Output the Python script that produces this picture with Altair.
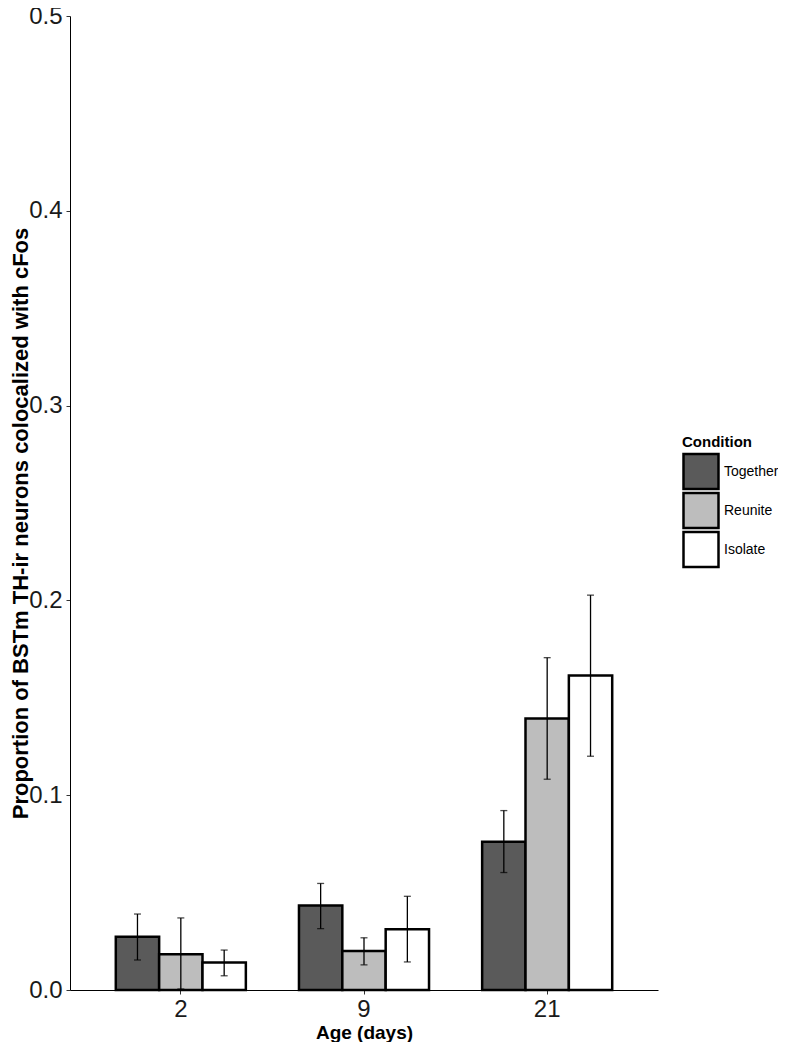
import altair as alt
import pandas as pd

ages = ["2", "9", "21"]
conditions = ["Together", "Reunite", "Isolate"]
colors = ["#5a5a5a", "#bdbdbd", "#ffffff"]

mean_together = [0.0273, 0.0434, 0.0761]
mean_reunite = [0.0183, 0.0200, 0.1394]
mean_isolate = [0.0141, 0.0312, 0.1614]

lower_together = [0.0154, 0.0315, 0.0603]
upper_together = [0.0390, 0.0547, 0.0921]
lower_reunite = [0.0005, 0.0129, 0.1082]
upper_reunite = [0.0370, 0.0268, 0.1706]
lower_isolate = [0.0073, 0.0144, 0.1200]
upper_isolate = [0.0205, 0.0481, 0.2027]

y_ticks = [0.0, 0.1, 0.2, 0.3, 0.4, 0.5]

rows = []
for cond, m, lo, hi in [
    ("Together", mean_together, lower_together, upper_together),
    ("Reunite", mean_reunite, lower_reunite, upper_reunite),
    ("Isolate", mean_isolate, lower_isolate, upper_isolate),
]:
    for a, mv, lv, hv in zip(ages, m, lo, hi):
        rows.append({"age": a, "condition": cond, "mean": mv, "lower": lv, "upper": hv})
df = pd.DataFrame(rows)

FONT = "Liberation Sans, Arial, Helvetica, sans-serif"

base = alt.Chart(df).encode(
    x=alt.X(
        "age:N",
        sort=ages,
        scale=alt.Scale(paddingInner=0.29, paddingOuter=0.25),
        axis=alt.Axis(
            title="Age (days)",
            labelAngle=0,
            titleY=42,
            titleBaseline="middle",
            titleFontSize=19,
            labelPadding=3,
        ),
    ),
    xOffset=alt.XOffset(
        "condition:N", sort=conditions, scale=alt.Scale(paddingInner=0, paddingOuter=0)
    ),
)

bars = base.mark_bar(stroke="black", strokeWidth=2.5).encode(
    y=alt.Y(
        "mean:Q",
        scale=alt.Scale(domain=[0, 0.5], nice=False, zero=True),
        axis=alt.Axis(
            values=y_ticks,
            format=".1f",
            title="Proportion of BSTm TH-ir neurons colocalized with cFos",
            titleX=-50,
            titleY=507,
            titleAngle=270,
            titleAlign="center",
            titleBaseline="middle",
            titleFontSize=22,
            labelPadding=4,
        ),
    ),
    fill=alt.Fill(
        "condition:N",
        sort=conditions,
        scale=alt.Scale(domain=conditions, range=colors),
        legend=alt.Legend(
            title="Condition",
            orient="none",
            legendX=612,
            legendY=419,
            titleFontSize=15,
            titleFontWeight="bold",
            titleColor="black",
            titleFont=FONT,
            titlePadding=2,
            labelFontSize=14,
            labelFont=FONT,
            labelColor="black",
            labelOffset=4,
            symbolType="square",
            symbolSize=1225,
            symbolStrokeColor="black",
            symbolStrokeWidth=2.5,
            clipHeight=39,
            rowPadding=0,
        ),
    ),
)

rules = base.mark_rule(color="black", strokeWidth=1.3).encode(
    y="lower:Q", y2="upper:Q"
)
cap_lo = base.mark_tick(color="black", thickness=1.3, size=7).encode(y="lower:Q")
cap_hi = base.mark_tick(color="black", thickness=1.3, size=7).encode(y="upper:Q")

chart = (
    alt.layer(bars, rules, cap_lo, cap_hi)
    .properties(
        width=588,
        height=974,
        padding={"left": 62, "top": 8, "right": 120, "bottom": 52},
        autosize=alt.AutoSizeParams(type="none"),
        background="white",
    )
    .configure_view(stroke=None)
    .configure_axis(
        grid=False,
        domainColor="black",
        domainWidth=1,
        tickColor="#333333",
        tickSize=4,
        labelFont=FONT,
        labelFontSize=24,
        labelColor="#1a1a1a",
        titleFont=FONT,
        titleFontSize=20,
        titleFontWeight="bold",
        titleColor="black",
    )
)

chart.save("out.html", embed_options={"renderer": "svg", "actions": False})
